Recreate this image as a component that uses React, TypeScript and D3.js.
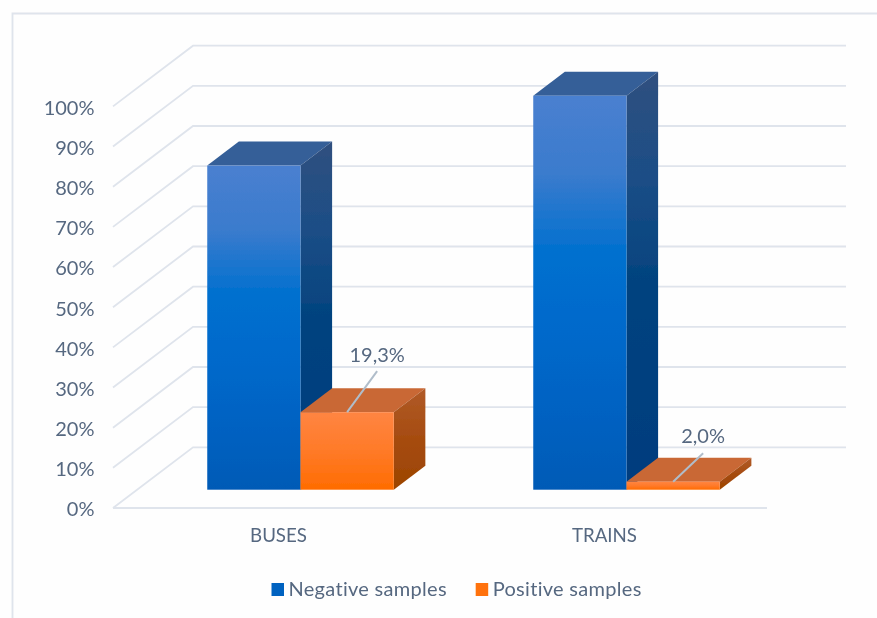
import { useRef, useEffect } from "react";
import * as d3 from "d3";

const categories = ["BUSES", "TRAINS"];
const seriesNames = ["Negative samples", "Positive samples"];
const negativeValues = [80.7, 98.1];
const positiveValues = [19.3, 2.0];
const dataLabels = ["19,3%", "2,0%"];
const yTicks = [0, 10, 20, 30, 40, 50, 60, 70, 80, 90, 100];

const W = 877;
const H = 618;
const FONT = "Lato, 'Open Sans', sans-serif";
const TEXT = "#566880";
const GRID = "#dfe4ec";

// shade ramps, top to bottom of each face
const BLUE_FRONT = ["#4a80d0", "#3a7bcd", "#0070cf", "#0069cb", "#0062c2", "#005ab6"];
const BLUE_SIDE = ["#30507f", "#1c4e86", "#03437f", "#00407f", "#003c7e"];
const ORANGE_FRONT = ["#ff8542", "#ff7a28", "#ff6c00"];
const ORANGE_SIDE = ["#b05a28", "#a64c10", "#9c4400"];

export default function App() {
  const ref = useRef<SVGSVGElement>(null);

  useEffect(() => {
    if (!ref.current) return;
    const svg = d3.select(ref.current);
    svg.selectAll("*").remove();

    const defs = svg.append("defs");
    const ramp = (id: string, stops: string[]) => {
      const grad = defs.append("linearGradient").attr("id", id)
        .attr("x1", 0).attr("y1", 0).attr("x2", 0).attr("y2", 1);
      stops.forEach((c, i) => grad.append("stop").attr("offset", i / (stops.length - 1)).attr("stop-color", c));
    };
    ramp("blueFront", BLUE_FRONT);
    ramp("blueSide", BLUE_SIDE);
    ramp("orangeFront", ORANGE_FRONT);
    ramp("orangeSide", ORANGE_SIDE);
    defs.append("filter").attr("id", "soft").attr("x", "-2%").attr("y", "-2%").attr("width", "104%").attr("height", "104%")
      .append("feGaussianBlur").attr("stdDeviation", 0.5);

    // front plane of the bars
    const y = d3.scaleLinear().domain([0, 100]).range([489.7, 88.1]);
    const x0 = d3.scaleBand().domain(categories).range([137.5, 789.5]);
    const x1 = d3.scaleBand().domain(seriesNames).range([x0.bandwidth() / 2 - 93.25, x0.bandwidth() / 2 + 93.25]);

    // wall and bar depth offsets
    const wall = { dx: 80, dy: -60.7, floorX: 113, floorY: 18.3, right: 846 };
    const bar = { dx: 31.6, dy: -24 };

    const chart = svg.append("g").attr("filter", "url(#soft)");

    // chart frame (only top and left are in view)
    chart.append("path").attr("d", `M12.5,${H}V13.5H${W}`).attr("fill", "none").attr("stroke", GRID).attr("stroke-width", 1.9);

    // Grid
    yTicks.forEach((t) => {
      const yf = y(t) + wall.floorY;
      const yb = yf + wall.dy;
      const line = d3.line();
      chart.append("path")
        .attr("d", line([[wall.floorX, yf], [wall.floorX + wall.dx, yb], [wall.right, yb]]))
        .attr("fill", "none").attr("stroke", GRID).attr("stroke-width", 1.8);
    });
    chart.append("line")
      .attr("x1", wall.floorX).attr("x2", wall.right - wall.dx + 1)
      .attr("y1", y(0) + wall.floorY).attr("y2", y(0) + wall.floorY)
      .attr("stroke", GRID).attr("stroke-width", 1.9);

    // Y axis labels
    const axis = chart.append("g")
      .attr("transform", `translate(${wall.floorX},${wall.floorY + 1.5})`)
      .call(d3.axisLeft(y).tickValues(yTicks).tickSize(0).tickPadding(18.5).tickFormat((d) => `${d}%`));
    axis.select(".domain").remove();
    axis.selectAll("text").attr("font-family", FONT).attr("font-size", 20).attr("fill", TEXT);

    // Bars
    const drawBar = (cat: string, name: string, value: number, top: string, front: string, side: string) => {
      const xl = (x0(cat) ?? 0) + (x1(name) ?? 0);
      const xr = xl + x1.bandwidth();
      const yt = y(value);
      const yb = y(0);
      const g = chart.append("g");
      g.append("path")
        .attr("d", `M${xl},${yt}l${bar.dx},${bar.dy}H${xr + bar.dx}L${xr},${yt}Z`)
        .attr("fill", top);
      g.append("path")
        .attr("d", `M${xr},${yt}L${xr + bar.dx},${yt + bar.dy}V${yb + bar.dy}L${xr},${yb}Z`)
        .attr("fill", `url(#${side})`);
      g.append("rect")
        .attr("x", xl).attr("y", yt).attr("width", xr - xl).attr("height", yb - yt)
        .attr("fill", `url(#${front})`);
    };

    categories.forEach((cat, i) => {
      drawBar(cat, seriesNames[0], negativeValues[i], "#345e98", "blueFront", "blueSide");
      drawBar(cat, seriesNames[1], positiveValues[i], "#c96835", "orangeFront", "orangeSide");
    });

    // Data labels with leaders
    categories.forEach((cat, i) => {
      const xl = (x0(cat) ?? 0) + (x1(seriesNames[1]) ?? 0);
      const cx = xl + x1.bandwidth() / 2;
      const yt = y(positiveValues[i]);
      chart.append("line")
        .attr("x1", cx).attr("y1", yt)
        .attr("x2", cx + 30).attr("y2", yt - 41 + i * 12.5)
        .attr("stroke", "#b0bdca").attr("stroke-width", 2);
      chart.append("text")
        .attr("x", cx + 30).attr("y", yt - 50 + i * 11)
        .attr("text-anchor", "middle").attr("font-family", FONT).attr("font-size", 20).attr("fill", TEXT)
        .text(dataLabels[i]);
    });

    // Category labels
    categories.forEach((cat) => {
      chart.append("text")
        .attr("x", (x0(cat) ?? 0) + x0.bandwidth() / 2 - 22)
        .attr("y", y(0) + 52.5)
        .attr("text-anchor", "middle").attr("font-family", FONT).attr("font-size", 18.7).attr("fill", TEXT)
        .text(cat);
    });

    // Legend
    const legendX = d3.scaleOrdinal<string, number>().domain(seriesNames).range([271.5, 475.7]);
    seriesNames.forEach((name, i) => {
      chart.append("rect")
        .attr("x", legendX(name)).attr("y", 583).attr("width", 12.5).attr("height", 13)
        .attr("fill", i === 0 ? "#0062c0" : "#ff7210");
      chart.append("text")
        .attr("x", legendX(name) + 17).attr("y", 596)
        .attr("font-family", FONT).attr("font-size", 20).attr("letter-spacing", 0.3).attr("fill", TEXT)
        .text(name);
    });
  }, []);

  return <svg ref={ref} width={W} height={H} style={{ position: "absolute", left: 0, top: 0, display: "block", background: "#fefefe" }} />;
}
